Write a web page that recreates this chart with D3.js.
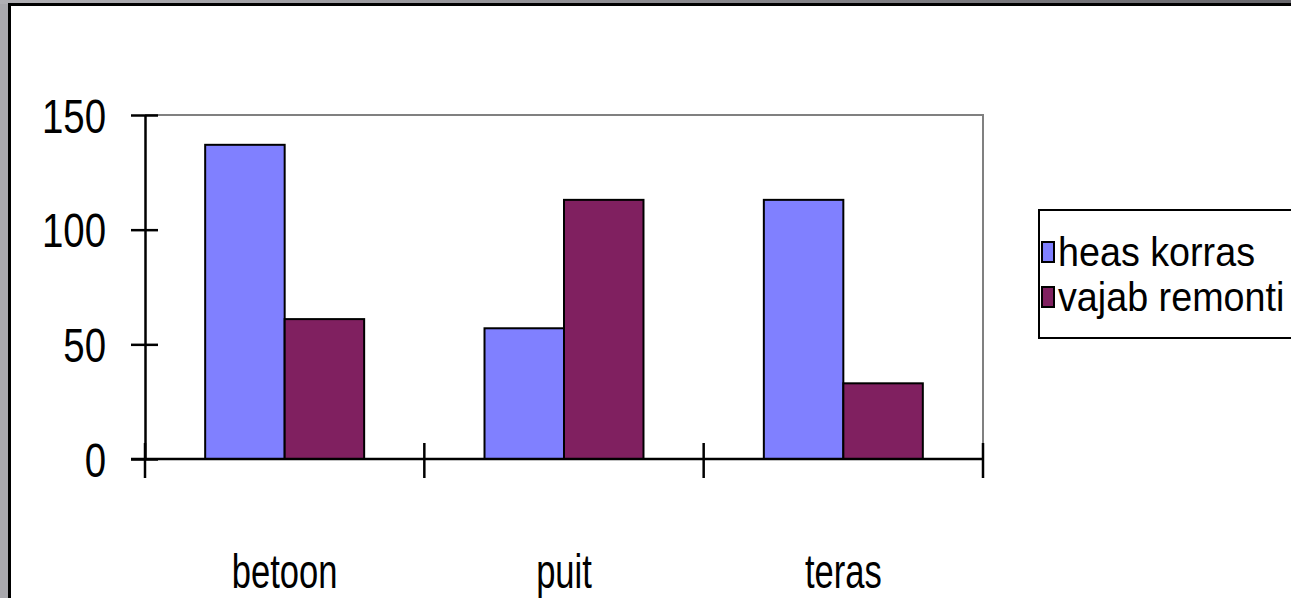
<!DOCTYPE html>
<html>
<head>
<meta charset="utf-8">
<script src="https://cdn.jsdelivr.net/npm/d3@7/dist/d3.min.js"></script>
<style>
  html, body { margin: 0; padding: 0; background: #ffffff; }
  svg { display: block; }
  text { font-family: "Liberation Sans", Arial, sans-serif; fill: #000; }
</style>
</head>
<body>
<svg id="chart" width="1291" height="598"></svg>
<script>
// ---- data ----
const categories = ["betoon", "puit", "teras"];
const seriesNames = ["heas korras", "vajab remonti"];
const heasKorras = [137, 57, 113];
const vajabRemonti = [61, 113, 33];
const yTicks = [0, 50, 100, 150];
const seriesColors = ["#8080FF", "#802060"];

const W = 1291, H = 598;
const svg = d3.select("#chart");

// narrow-text helper (emulates a condensed face)
function narrowText(sel, sx) {
  return sel.attr("transform", function () {
    const t = d3.select(this);
    return `translate(${+t.attr("data-x")},${+t.attr("data-y")}) scale(${sx},1)`;
  });
}

// ---- frame ----
const defs = svg.append("defs");
const grad = defs.append("linearGradient").attr("id", "topGrad").attr("x1", "0").attr("x2", "1");
grad.append("stop").attr("offset", "0").attr("stop-color", "#b0afb4");
grad.append("stop").attr("offset", "1").attr("stop-color", "#68676c");
svg.append("rect").attr("x", 0).attr("y", 0).attr("width", W).attr("height", H).attr("fill", "#a9a8ad");
svg.append("rect").attr("x", 0).attr("y", 0).attr("width", W).attr("height", 4).attr("fill", "url(#topGrad)");
svg.append("rect").attr("x", 8).attr("y", 3).attr("width", W - 8).attr("height", H - 3).attr("fill", "#000");
svg.append("rect").attr("x", 11).attr("y", 6).attr("width", W - 11).attr("height", H - 6).attr("fill", "#fff");

// ---- scales ----
const plot = { left: 145, right: 983, top: 115, bottom: 459 };
const x = d3.scaleBand().domain(categories).range([plot.left, plot.right]).paddingInner(0).paddingOuter(0);
const x1 = d3.scaleBand().domain(seriesNames).range([0, x.bandwidth()]).paddingInner(0).paddingOuter(0.757);
const y = d3.scaleLinear().domain([0, 150]).range([plot.bottom, plot.top]);

// ---- plot border (gray) ----
svg.append("path")
  .attr("d", `M${plot.left},${plot.top}H${plot.right}V${plot.bottom}`)
  .attr("fill", "none").attr("stroke", "#808080").attr("stroke-width", 2);

// ---- bars ----
const data = categories.map((c, i) => ({ cat: c, values: [heasKorras[i], vajabRemonti[i]] }));
const groups = svg.append("g").selectAll("g").data(data).join("g")
  .attr("transform", d => `translate(${x(d.cat)},0)`);
groups.selectAll("rect")
  .data(d => d.values.map((v, j) => ({ name: seriesNames[j], v, j })))
  .join("rect")
  .attr("x", d => x1(d.name))
  .attr("width", x1.bandwidth())
  .attr("y", d => y(d.v))
  .attr("height", d => y(0) - y(d.v))
  .attr("fill", d => seriesColors[d.j])
  .attr("stroke", "#000").attr("stroke-width", 2);

// ---- y axis ----
const yAxis = svg.append("g").attr("transform", `translate(${plot.left},0)`)
  .call(d3.axisLeft(y).tickValues(yTicks).tickSize(14).tickFormat(d3.format("d")));
yAxis.attr("font-family", null).attr("font-size", null);
yAxis.select(".domain").attr("stroke", "#000").attr("stroke-width", 2.5).attr("d", `M0.5,${plot.top}V${plot.bottom}`);
yAxis.selectAll(".tick line").attr("x1", -14).attr("x2", 13).attr("stroke", "#000").attr("stroke-width", 2.5);
yAxis.selectAll(".tick text")
  .attr("x", null).attr("dy", null)
  .attr("data-x", -39).attr("data-y", 17)
  .attr("font-size", 48).attr("fill", "#000").attr("text-anchor", "end")
  .call(narrowText, 0.8);

// ---- x axis ----
const bounds = categories.map(c => x(c)).concat([plot.right]);
svg.append("line").attr("x1", plot.left - 14).attr("x2", plot.right)
  .attr("y1", y(0)).attr("y2", y(0)).attr("stroke", "#000").attr("stroke-width", 2.5);
svg.append("g").selectAll("line").data(bounds).join("line")
  .attr("x1", d => d).attr("x2", d => d)
  .attr("y1", y(0) - 16).attr("y2", y(0) + 19)
  .attr("stroke", "#000").attr("stroke-width", 2.5);
svg.append("g").selectAll("text").data(categories).join("text")
  .attr("data-x", d => x(d) + x.bandwidth() / 2)
  .attr("data-y", 588)
  .attr("text-anchor", "middle")
  .attr("font-size", 48)
  .text(d => d)
  .call(narrowText, 0.72);

// ---- legend ----
const lg = svg.append("g");
lg.append("rect").attr("x", 1039).attr("y", 210).attr("width", 300).attr("height", 128)
  .attr("fill", "#fff").attr("stroke", "#000").attr("stroke-width", 2);
const items = lg.selectAll("g.item").data(seriesNames).join("g").attr("class", "item")
  .attr("transform", (d, i) => `translate(1042,${252 + i * 45})`);
items.append("rect").attr("x", 0).attr("y", -10).attr("width", 12).attr("height", 20)
  .attr("fill", (d, i) => seriesColors[i]).attr("stroke", "#000").attr("stroke-width", 2);
items.append("text").attr("data-x", 16).attr("data-y", 14).attr("font-size", 41)
  .text(d => d).call(narrowText, 0.92);
</script>
</body>
</html>
